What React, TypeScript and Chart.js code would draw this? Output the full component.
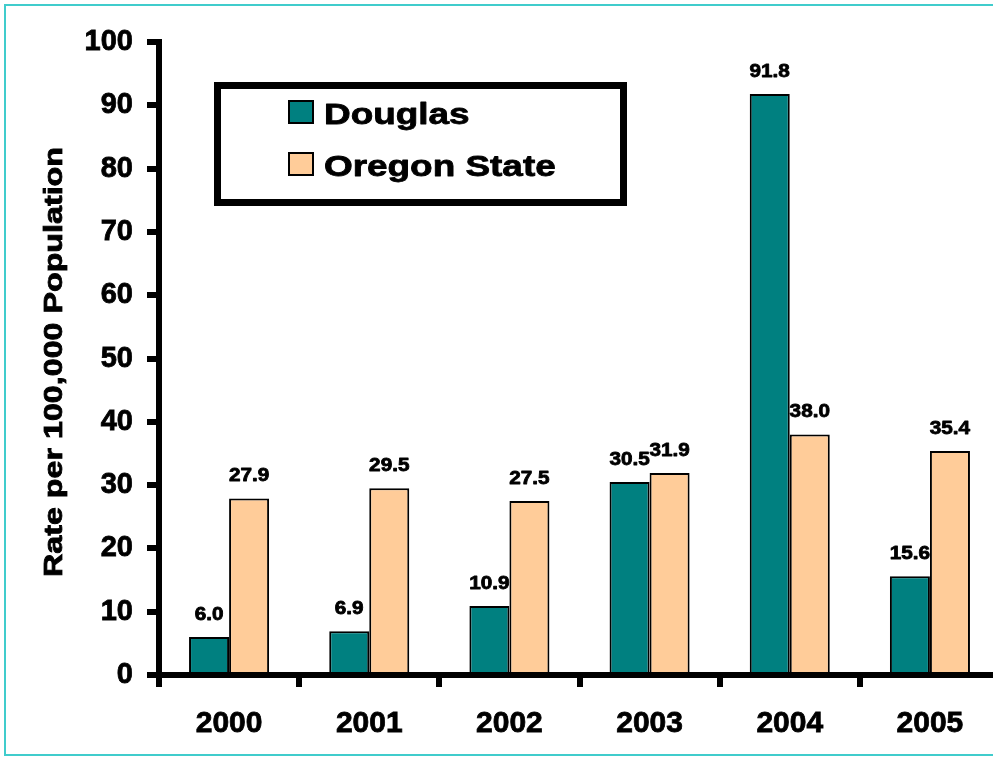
import React, { useEffect, useRef } from "react";
import { Chart, registerables } from "chart.js";

Chart.register(...registerables);

const categories = ["2000", "2001", "2002", "2003", "2004", "2005"];
const douglasValues = [6.0, 6.9, 10.9, 30.5, 91.8, 15.6];
const oregonValues = [27.9, 29.5, 27.5, 31.9, 38.0, 35.4];
const seriesNames = ["Douglas", "Oregon State"];
const seriesColors = ["#008080", "#FFCC99"];
const yTitle = "Rate per 100,000 Population";

const FONT = "Arial, 'Liberation Sans', Helvetica, sans-serif";
const STROKE = 0.8;

function drawStretched(ctx: CanvasRenderingContext2D, text: string, x: number, y: number, size: number, sx: number, align: CanvasTextAlign, baseline: CanvasTextBaseline) {
  ctx.save();
  ctx.translate(x, y);
  ctx.scale(sx, 1);
  ctx.font = `bold ${size}px ${FONT}`;
  ctx.textAlign = align;
  ctx.textBaseline = baseline;
  ctx.fillStyle = "#000";
  ctx.strokeStyle = "#000";
  ctx.lineWidth = STROKE;
  ctx.lineJoin = "round";
  ctx.fillText(text, 0, 0);
  ctx.strokeText(text, 0, 0);
  ctx.restore();
}

const customPlugin = {
  id: "customDecor",
  beforeDraw(chart: any) {
    const ctx = chart.ctx;
    ctx.save();
    ctx.fillStyle = "#fff";
    ctx.fillRect(0, 0, chart.width, chart.height);
    ctx.restore();
  },
  afterDraw(chart: any) {
    const ctx: CanvasRenderingContext2D = chart.ctx;
    // data labels
    chart.data.datasets.forEach((ds: any, i: number) => {
      const meta = chart.getDatasetMeta(i);
      meta.data.forEach((bar: any, j: number) => {
        const v = ds.data[j] as number;
        drawStretched(ctx, v.toFixed(1), bar.x, bar.y - 17, 18, 1.15, "center", "alphabetic");
      });
    });
    // y title
    ctx.save();
    ctx.translate(62, 362);
    ctx.rotate(-Math.PI / 2);
    ctx.scale(1.24, 1);
    ctx.font = `bold 26px ${FONT}`;
    ctx.textAlign = "center";
    ctx.textBaseline = "alphabetic";
    ctx.fillStyle = "#000";
    ctx.strokeStyle = "#000";
    ctx.lineWidth = STROKE;
    ctx.fillText(yTitle, 0, 0);
    ctx.strokeText(yTitle, 0, 0);
    ctx.restore();
    // legend box
    ctx.save();
    ctx.lineWidth = 7;
    ctx.strokeStyle = "#000";
    ctx.strokeRect(217.5, 85.5, 406, 117);
    const swY = [100, 152];
    seriesNames.forEach((name, i) => {
      ctx.fillStyle = seriesColors[i];
      ctx.fillRect(288, swY[i], 26, 24);
      ctx.lineWidth = 2;
      ctx.strokeStyle = "#000";
      ctx.strokeRect(289, swY[i] + 1, 24, 22);
      drawStretched(ctx, name, 324, swY[i] + 24, 30, 1.23, "left", "alphabetic");
    });
    ctx.restore();
    // outer teal frame
    ctx.save();
    ctx.strokeStyle = "#40CCCC";
    ctx.lineWidth = 2;
    ctx.strokeRect(5, 5, chart.width + 20, 750);
    ctx.restore();
  },
};

export default function App() {
  const canvasRef = useRef<HTMLCanvasElement | null>(null);

  useEffect(() => {
    document.body.style.margin = "0";
    const canvas = canvasRef.current;
    if (!canvas) return;
    const chart = new Chart(canvas, {
      type: "bar",
      data: {
        labels: categories,
        datasets: [
          {
            label: seriesNames[0],
            data: douglasValues,
            backgroundColor: seriesColors[0],
            borderColor: "#000",
            borderWidth: 2,
            barPercentage: 1,
            categoryPercentage: 0.571,
          },
          {
            label: seriesNames[1],
            data: oregonValues,
            backgroundColor: seriesColors[1],
            borderColor: "#000",
            borderWidth: 2,
            barPercentage: 1,
            categoryPercentage: 0.571,
          },
        ],
      },
      options: {
        responsive: false,
        animation: false,
        devicePixelRatio: 1,
        layout: { padding: { top: 42, right: 0, left: 0, bottom: 0 } },
        plugins: {
          legend: { display: false },
          tooltip: { enabled: false },
        },
        scales: {
          x: {
            grid: {
              display: true,
              drawOnChartArea: false,
              drawTicks: true,
              tickLength: 12,
              lineWidth: 6,
              tickWidth: 6,
              color: "#000",
              offset: true,
            },
            border: { display: true, width: 6, color: "#000" },
            ticks: {
              color: "#000",
              font: { family: FONT, size: 30, weight: "bold" },
              padding: 19,
              maxRotation: 0,
              textStrokeColor: "#000",
              textStrokeWidth: STROKE,
            },
            afterFit: (scale: any) => {
              scale.height = 83;
            },
          },
          y: {
            min: 0,
            max: 100,
            grid: {
              display: true,
              drawOnChartArea: false,
              drawTicks: true,
              tickLength: 12,
              lineWidth: 6,
              tickWidth: 6,
              color: "#000",
            },
            border: { display: true, width: 6, color: "#000" },
            ticks: {
              stepSize: 10,
              color: "#000",
              font: { family: FONT, size: 29, weight: "bold" },
              padding: 14,
              textStrokeColor: "#000",
              textStrokeWidth: STROKE,
            },
            afterFit: (scale: any) => {
              scale.width = 159;
            },
          },
        },
      },
      plugins: [customPlugin],
    } as any);
    return () => chart.destroy();
  }, []);

  return (
    <div style={{ width: 993, height: 758, overflow: "hidden", position: "relative" }}>
      <canvas ref={canvasRef} width={1000} height={758} style={{ display: "block" }} />
    </div>
  );
}
